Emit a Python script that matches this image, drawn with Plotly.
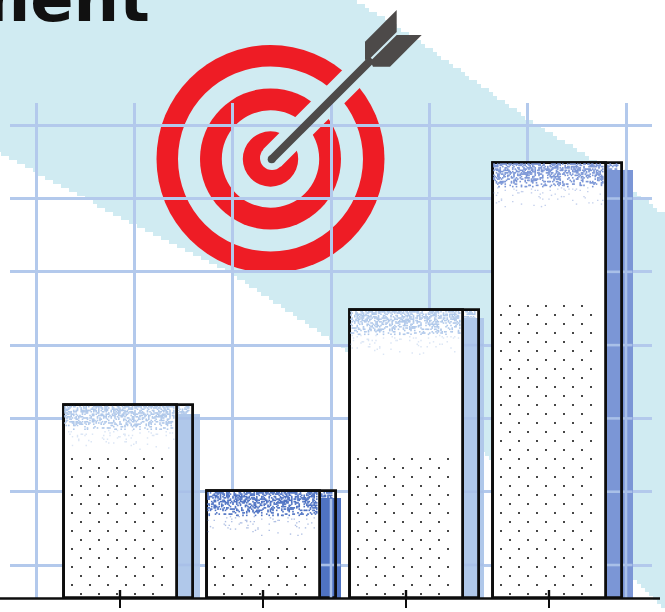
import numpy as np
import plotly.graph_objects as go

# ---- data ----
categories = [0, 1, 2, 3]
values = [2.63, 1.455, 3.925, 5.94]
y_grid_values = [0.45, 1.45, 2.45, 3.45, 4.45, 5.45, 6.45]
dot_row_counts = [16, 6, 16, 33]
title_text = "Achievement"

# ---- styles / layout ----
W, H = 665, 612
GRID = "#b3c9ec"
TEAL = "#d0ebf2"
RED = "#ee1c25"
ARROW = "#4d4a49"
bar_colors = ["#b0c8ea", "#4f73c3", "#b0c8ea", "#7b96d6"]
shadow_extra = [7, 5, 5, 11]
shadow_drop = [9, 7, 8, 7]
PX_X = 143.0      # px per category
PX_Y = 73.3       # px per value unit
X0 = 120.0        # px of first category
BASE = 598.0      # px of the baseline
DL, DR, DT = 10, 652, 103
FRONT = 113.0
STRIP = 16.0
x_grid_px = [36, 134, 232, 331, 429, 527, 626]


def xd(p):
    return (p - X0) / PX_X


def yd(p):
    return (BASE - p) / PX_Y


def px(v):
    return v / W


def py(v):
    return 1 - v / H


def poly(points):
    return "M" + " L".join(f"{px(a):.4f},{py(b):.4f}" for a, b in points) + " Z"


def stairs(points, step=4):
    """Blocky edge following a polyline, like the coarse band in the picture."""
    xs = np.array([p[0] for p in points], dtype=float)
    ys = np.array([p[1] for p in points], dtype=float)
    out = []
    sign = 1 if xs[-1] > xs[0] else -1
    grid = np.arange(xs[0], xs[-1] + sign * step, sign * step)
    order = np.argsort(xs)
    for gx_ in grid:
        gy_ = np.interp(gx_, xs[order], ys[order])
        gy_ = round(gy_ / step) * step
        out.append((gx_, gy_))
        out.append((gx_ + sign * step, gy_))
    return out


def cell_noise(a, b):
    v = np.sin(a * 12.9898 + b * 78.233) * 43758.5453
    return v - np.floor(v)


fig = go.Figure()
n = len(categories)
cx = np.array(categories, dtype=float)
vals = np.array(values)
half = FRONT / 2 / PX_X
strip_w = STRIP / PX_X
extra = np.array(shadow_extra) / PX_X
drop = np.array(shadow_drop) / PX_Y

# white backing of the full box
fig.add_bar(x=cx, y=vals, offset=[-half] * n, width=[2 * half + strip_w] * n,
            marker=dict(color="white", line=dict(width=0)), hoverinfo="skip")
# coloured depth strip + offset shadow
fig.add_bar(x=cx, y=vals - drop, offset=[half] * n, width=strip_w + extra,
            marker=dict(color=bar_colors, line=dict(width=0)), hoverinfo="skip")
# outlined box
fig.add_bar(x=cx, y=vals, offset=[-half] * n, width=[2 * half + strip_w] * n,
            marker=dict(color="rgba(0,0,0,0)", line=dict(color="#0d0d0d", width=2.8)), hoverinfo="skip")
# front face
fig.add_bar(x=cx, y=vals, offset=[-half] * n, width=[2 * half] * n,
            marker=dict(color="white", line=dict(color="#0d0d0d", width=2.8)), hoverinfo="skip")

# grid lines seen across the coloured strips
gx, gy = [], []
for i in range(n):
    left = X0 + i * PX_X + FRONT / 2
    right = left + STRIP
    sh = right + shadow_extra[i]
    top_px = BASE - values[i] * PX_Y + shadow_drop[i]
    for gv in y_grid_values:
        if BASE - gv * PX_Y > top_px:
            gx += [xd(left + 1.5), xd(right - 1.5), None, xd(right + 1.5), xd(sh), None]
            gy += [gv, gv, None, gv, gv, None]
    for g in x_grid_px:
        if left + 1 < g < sh:
            gx += [xd(g), xd(g), None]
            gy += [yd(top_px), 0, None]
fig.add_scatter(x=gx, y=gy, mode="lines", line=dict(color="#a9c0e8", width=2.6),
                hoverinfo="skip", showlegend=False)

# stipple texture at the top of each box (a print screen, not a data series)
CELL = 1.25
for i in range(n):
    left = X0 + i * PX_X - FRONT / 2 + 1.5
    right = X0 + i * PX_X + FRONT / 2 + STRIP - 1.5
    div = X0 + i * PX_X + FRONT / 2
    top = BASE - values[i] * PX_Y + 1.5
    sx_dense, sy_dense, sx_pale, sy_pale = [], [], [], []
    for a in range(int((right - left) / CELL)):
        for b in range(int(46 / CELL)):
            d = b * CELL
            xp = left + a * CELL
            if abs(xp - div) < 1.8:
                continue
            if xp > div and d > shadow_drop[i] - 1.5:
                continue
            if d < 10:
                p = 0.5
            elif d < 23:
                p = 0.5 - (d - 10) * 0.03
            else:
                p = 0.08 * (46 - d) / 23
            if cell_noise(a + 17 * i, b) > p:
                continue
            if d < 23:
                sx_dense.append(xd(xp)); sy_dense.append(yd(top + d))
            else:
                sx_pale.append(xd(xp)); sy_pale.append(yd(top + d))
    fig.add_scatter(x=sx_dense, y=sy_dense, mode="markers",
                    marker=dict(symbol="square", size=1.6, color=bar_colors[i], line=dict(width=0)),
                    hoverinfo="skip", showlegend=False)
    fig.add_scatter(x=sx_pale, y=sy_pale, mode="markers", opacity=0.45,
                    marker=dict(symbol="square", size=1.4, color=bar_colors[i], line=dict(width=0)),
                    hoverinfo="skip", showlegend=False)

# regular dot screen in the lower part of each front face
for i in range(n):
    left = X0 + i * PX_X - FRONT / 2
    dx, dy = [], []
    for k in range(dot_row_counts[i]):
        yy = 594 - 9 * k
        if k % 2 == 0:
            xs = [left + 17.5 + 18 * j for j in range(5)]
        else:
            xs = [left + 8.5 + 18 * j for j in range(6)]
        dx += [xd(v) for v in xs]
        dy += [yd(yy)] * len(xs)
    fig.add_scatter(x=dx, y=dy, mode="markers",
                    marker=dict(symbol="square", size=1.8, color="#333333", line=dict(width=0)),
                    hoverinfo="skip", showlegend=False)

# ---- decorative shapes ----
shapes = []
upper_edge = [(353, 0), (420, 43), (520, 115), (587, 157), (665, 217)]
lower_edge = [(665, 608), (640, 583), (484, 453), (333, 340), (233, 273), (133, 223), (33, 170), (0, 153)]
band = [(0, 0)] + stairs(upper_edge) + stairs(lower_edge)
shapes.append(dict(type="path", path=poly(band), xref="paper", yref="paper",
                   fillcolor=TEAL, line=dict(width=0), layer="below"))
CX, CY = 270.5, 159
for r, c in [(114, RED), (92.5, TEAL), (70.5, RED), (48.7, TEAL), (27.7, RED)]:
    shapes.append(dict(type="circle", xref="paper", yref="paper",
                       x0=px(CX - r), x1=px(CX + r), y0=py(CY + r), y1=py(CY - r),
                       fillcolor=c, line=dict(width=0), layer="below"))
# clear lane around the arrow shaft
hw = 12.5 / np.sqrt(2)
shapes.append(dict(type="path", xref="paper", yref="paper", fillcolor=TEAL, line=dict(width=0), layer="below",
                   path=poly([(272 - hw, 158 - hw), (362 - hw, 68 - hw), (362 + hw, 68 + hw), (272 + hw, 158 + hw)])))
shapes.append(dict(type="circle", xref="paper", yref="paper", x0=px(272 - 12), x1=px(272 + 12),
                   y0=py(158 + 12), y1=py(158 - 12), fillcolor=TEAL, line=dict(width=0), layer="below"))
# arrow
sw = 4 / np.sqrt(2)
shapes.append(dict(type="path", xref="paper", yref="paper", fillcolor=ARROW, line=dict(width=0),
                   path=poly([(271.7 - sw, 159.3 - sw), (372 - sw, 59 - sw), (372 + sw, 59 + sw), (271.7 + sw, 159.3 + sw)])))
shapes.append(dict(type="circle", xref="paper", yref="paper", x0=px(271.7 - 4), x1=px(271.7 + 4),
                   y0=py(159.3 + 4), y1=py(159.3 - 4), fillcolor=ARROW, line=dict(width=0)))
shapes.append(dict(type="path", xref="paper", yref="paper", fillcolor=ARROW, line=dict(width=0),
                   path=poly([(396.7, 10), (396.7, 32), (370, 58.5), (365, 60), (365, 41.7)])))
shapes.append(dict(type="path", xref="paper", yref="paper", fillcolor=ARROW, line=dict(width=0),
                   path=poly([(396.7, 35), (421.7, 35), (390, 66.7), (373, 66.7), (370.5, 61)])))
# baseline and the inner half of each tick
shapes.append(dict(type="line", xref="paper", yref="paper", x0=0, x1=px(660), y0=py(BASE + 0.5), y1=py(BASE + 0.5),
                   line=dict(color="#0d0d0d", width=2.5)))
for c in categories:
    shapes.append(dict(type="line", xref="x", yref="y", x0=c, x1=c, y0=0, y1=yd(590),
                       line=dict(color="#0d0d0d", width=2.4)))

fig.update_layout(
    width=W, height=H, autosize=False,
    margin=dict(l=0, r=0, t=0, b=0),
    paper_bgcolor="white", plot_bgcolor="rgba(0,0,0,0)",
    barmode="overlay", bargap=0, showlegend=False,
    shapes=shapes,
    annotations=[dict(text=title_text, xref="paper", yref="paper",
                      x=px(152), y=py(38), xanchor="right", yanchor="bottom",
                      showarrow=False, font=dict(family="DejaVu Sans", size=64, weight=700, color="#111111"))],
    xaxis=dict(domain=[px(DL), px(DR)], range=[xd(DL), xd(DR)], tickvals=categories,
               showticklabels=False, ticks="outside", ticklen=9, tickwidth=2.4, tickcolor="#0d0d0d",
               showgrid=False, zeroline=False, showline=False,
               minor=dict(tickvals=[xd(v) for v in x_grid_px], showgrid=True,
                          gridcolor=GRID, gridwidth=3, ticks="")),
    yaxis=dict(domain=[py(BASE), py(DT)], range=[0, yd(DT)], tickvals=y_grid_values,
               showticklabels=False, ticks="", showgrid=True, gridcolor=GRID, gridwidth=3,
               zeroline=False, showline=False),
)

fig.write_html("out.html", config=dict(displayModeBar=False),
               post_script="document.body.style.margin='0';document.body.style.overflow='hidden';")
